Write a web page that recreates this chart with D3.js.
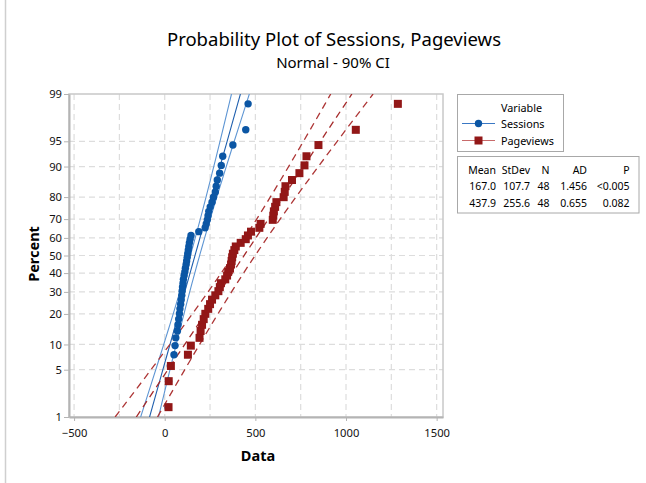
<!DOCTYPE html>
<meta charset="utf-8"/>
<title>Probability Plot of Sessions, Pageviews</title>
<script src="https://cdn.jsdelivr.net/npm/d3@7"></script>
<style>
    body {
        margin: 0;
        background: #fff;
    }

    text {
        font-family: "Noto Sans", "Open Sans", sans-serif;
        fill: #000;
    }

    .grid line {
        stroke: #dddddd;
        stroke-width: 1.2px;
        stroke-dasharray: 6, 4;
    }

    .axis path, .axis line {
        stroke: #b4b4b4;
    }

    .axis path {
        stroke-width: 2px;
    }

    .axis text {
        font-size: 11.2px;
        fill: #111;
    }
</style>
<svg id="chart" width="646" height="483"></svg>
<script>
    "use strict";

    const sessions = [19, 21, 31, 51, 57, 61, 70, 73, 77, 81, 84, 88, 91, 94, 96, 98,
        101, 103, 107, 111, 114, 118, 121, 124, 127, 130, 133, 136, 140, 145, 188, 223,
        229, 235, 239, 243, 251, 261, 269, 279, 284, 290, 303, 312, 320, 376, 447, 460];
    const pageviews = [21, 22, 34, 128, 144, 192, 198, 206, 215, 224, 240, 250, 261, 279, 296, 304,
        310, 334, 344, 350, 360, 366, 369, 372, 376, 384, 392, 419, 447, 459, 476, 522,
        529, 596, 599, 602, 609, 616, 656, 662, 666, 702, 743, 771, 782, 848, 1054, 1286];

    const seriesNames = ["Sessions", "Pageviews"];
    const means = [167.0, 437.9];
    const stdevs = [107.7, 255.6];
    const statHeaders = ["Mean", "StDev", "N", "AD", "P"];
    const statRows = [
        ["167.0", "107.7", "48", "1.456", "<0.005"],
        ["437.9", "255.6", "48", "0.655", "0.082"]
    ];
    const percentTicks = [1, 5, 10, 20, 30, 40, 50, 60, 70, 80, 90, 95, 99];
    const dataTicks = [-500, 0, 500, 1000, 1500];
    const dataGrid = [-500, -250, 0, 250, 500, 750, 1000, 1250, 1500];
    const ciLevel = 0.90;

    const W = 646, H = 483;
    const plot = {left: 69, right: 443, top: 94, bottom: 417};

    // inverse normal cdf (Acklam)
    function probit(p)
    {
        const a = [-3.969683028665376e+01, 2.209460984245205e+02, -2.759285104469687e+02,
            1.383577518672690e+02, -3.066479806614716e+01, 2.506628277459239e+00];
        const b = [-5.447609879822406e+01, 1.615858368580409e+02, -1.556989798598866e+02,
            6.680131188771972e+01, -1.328068155288572e+01];
        const c = [-7.784894002430293e-03, -3.223964580411365e-01, -2.400758277161838e+00,
            -2.549732539343734e+00, 4.374664141464968e+00, 2.938163982698783e+00];
        const d = [7.784695709041462e-03, 3.224671290700398e-01, 2.445134137142996e+00,
            3.754408661907416e+00];
        const lo = 0.02425;
        var q, r;
        if (p < lo || p > 1 - lo)
        {
            q = Math.sqrt(-2 * Math.log(p < lo ? p : 1 - p));
            var v = (((((c[0] * q + c[1]) * q + c[2]) * q + c[3]) * q + c[4]) * q + c[5]) /
                ((((d[0] * q + d[1]) * q + d[2]) * q + d[3]) * q + 1);
            return p < lo ? v : -v;
        }
        q = p - 0.5;
        r = q * q;
        return (((((a[0] * r + a[1]) * r + a[2]) * r + a[3]) * r + a[4]) * r + a[5]) * q /
            (((((b[0] * r + b[1]) * r + b[2]) * r + b[3]) * r + b[4]) * r + 1);
    }

    const x = d3.scaleLinear().domain([-528, 1535]).range([plot.left, plot.right]);
    const yz = d3.scaleLinear().domain([probit(0.01), probit(0.99)]).range([plot.bottom, plot.top]);
    const y = function (pct)
    {
        return yz(probit(pct / 100));
    };

    const svg = d3.select("#chart");

    // left page edge
    svg.append("line")
        .attr("x1", 5.5).attr("x2", 5.5).attr("y1", 0).attr("y2", H)
        .attr("stroke", "#cfcfcf").attr("stroke-width", 1.5);

    // titles
    svg.append("text")
        .attr("x", 334).attr("y", 46)
        .attr("text-anchor", "middle")
        .style("font-size", "18.5px")
        .text("Probability Plot of Sessions, Pageviews");
    svg.append("text")
        .attr("x", 333).attr("y", 68)
        .attr("text-anchor", "middle")
        .style("font-size", "15px")
        .text("Normal - 90% CI");

    // grid
    const grid = svg.append("g").attr("class", "grid");
    grid.selectAll("line.h")
        .data(percentTicks.filter(function (p) { return p > 1 && p < 99; }))
        .enter().append("line")
        .attr("x1", plot.left).attr("x2", plot.right)
        .attr("y1", y).attr("y2", y);
    grid.selectAll("line.v")
        .data(dataGrid)
        .enter().append("line")
        .attr("x1", x).attr("x2", x)
        .attr("y1", plot.top).attr("y2", plot.bottom);

    // frame
    svg.append("rect")
        .attr("x", plot.left).attr("y", plot.top)
        .attr("width", plot.right - plot.left).attr("height", plot.bottom - plot.top)
        .attr("fill", "none").attr("stroke", "#c8c8c8").attr("stroke-width", 1.5);

    // axes
    svg.append("g")
        .attr("class", "axis")
        .attr("transform", "translate(0," + plot.bottom + ")")
        .call(d3.axisBottom(x).tickValues(dataTicks).tickFormat(d3.format("d"))
            .tickSize(4).tickPadding(8).tickSizeOuter(0));
    svg.append("g")
        .attr("class", "axis")
        .attr("transform", "translate(" + plot.left + ",0)")
        .call(d3.axisLeft(yz)
            .tickValues(percentTicks.map(function (p) { return probit(p / 100); }))
            .tickFormat(function (z, i) { return percentTicks[i]; })
            .tickSize(5).tickPadding(2).tickSizeOuter(0));

    svg.append("text")
        .attr("transform", "translate(39,254) rotate(-90)")
        .attr("text-anchor", "middle")
        .style("font-size", "14.5px").style("font-weight", "bold")
        .text("Percent");
    svg.append("text")
        .attr("x", 258).attr("y", 461)
        .attr("text-anchor", "middle")
        .style("font-size", "14.5px").style("font-weight", "bold")
        .text("Data");

    // fitted line + confidence bounds
    svg.append("clipPath").attr("id", "clip")
        .append("rect")
        .attr("x", plot.left).attr("y", plot.top)
        .attr("width", plot.right - plot.left).attr("height", plot.bottom - plot.top);

    const zc = probit(1 - (1 - ciLevel) / 2);
    const styles = [
        {fit: "#1f5fae", ci: "#5d95d3", dash: null, point: "#0b56a4"},
        {fit: "#a52a2a", ci: "#ad3535", dash: "7,5", point: "#921717"}
    ];
    const lines = svg.append("g").attr("clip-path", "url(#clip)");

    [sessions, pageviews].forEach(function (values, k)
    {
        const n = values.length;
        const pos = values.map(function (v, i) { return (i + 1 - 0.3) / (n + 0.4); });
        const zs = [0.01].concat(pos, [0.99]).map(probit);
        const m = means[k], s = stdevs[k];
        const half = function (z) { return zc * s * Math.sqrt((1 + z * z / 2) / n); };
        const bands = [
            {f: function (z) { return m + z * s; }, c: styles[k].fit},
            {f: function (z) { return m + z * s - half(z); }, c: styles[k].ci},
            {f: function (z) { return m + z * s + half(z); }, c: styles[k].ci}
        ];
        bands.forEach(function (b)
        {
            lines.append("path")
                .datum(zs)
                .attr("fill", "none")
                .attr("stroke", b.c)
                .attr("stroke-width", k === 0 ? 1.1 : 1.3)
                .attr("stroke-dasharray", styles[k].dash)
                .attr("d", d3.line()
                    .x(function (z) { return x(b.f(z)); })
                    .y(function (z) { return yz(z); }));
        });
    });

    // points
    const pts = svg.append("g");
    pts.selectAll("circle")
        .data(sessions)
        .enter().append("circle")
        .attr("cx", function (d) { return x(d); })
        .attr("cy", function (d, i) { return yz(probit((i + 0.7) / (sessions.length + 0.4))); })
        .attr("r", 3.7)
        .attr("fill", styles[0].point);
    pts.selectAll("rect")
        .data(pageviews)
        .enter().append("rect")
        .attr("x", function (d) { return x(d) - 4; })
        .attr("y", function (d, i) { return yz(probit((i + 0.7) / (pageviews.length + 0.4))) - 4; })
        .attr("width", 8).attr("height", 8)
        .attr("fill", styles[1].point);

    // legend
    const legend = svg.append("g");
    legend.append("rect")
        .attr("x", 457.5).attr("y", 94.5).attr("width", 106).attr("height", 57)
        .attr("fill", "#fff").attr("stroke", "#a8a8a8");
    legend.append("text")
        .attr("x", 501).attr("y", 111.5)
        .style("font-size", "10.8px")
        .text("Variable");
    const legendLine = ["#3a78c4", "#c86a6a"];
    seriesNames.forEach(function (name, k)
    {
        const ly = [123.5, 140.5][k];
        legend.append("line")
            .attr("x1", 462).attr("x2", 495).attr("y1", ly).attr("y2", ly)
            .attr("stroke", legendLine[k]).attr("stroke-width", 1.2);
        if (k === 0)
        {
            legend.append("circle").attr("cx", 478.5).attr("cy", ly).attr("r", 3.7)
                .attr("fill", styles[0].point);
        }
        else
        {
            legend.append("rect").attr("x", 474.5).attr("y", ly - 4)
                .attr("width", 8).attr("height", 8)
                .attr("fill", styles[1].point);
        }
        legend.append("text")
            .attr("x", 501).attr("y", ly + 4)
            .style("font-size", "10.8px")
            .text(name);
    });

    // statistics table
    const table = svg.append("g");
    table.append("rect")
        .attr("x", 457.5).attr("y", 156.5).attr("width", 181.5).attr("height", 56.5)
        .attr("fill", "#fff").attr("stroke", "#a8a8a8");
    const colRight = [496, 530, 549.5, 587, 629.5];
    [statHeaders].concat(statRows).forEach(function (row, r)
    {
        row.forEach(function (cell, c)
        {
            table.append("text")
                .attr("x", colRight[c]).attr("y", [173.5, 190, 206.5][r])
                .attr("text-anchor", "end")
                .style("font-size", "10.5px")
                .text(cell);
        });
    });
</script>
